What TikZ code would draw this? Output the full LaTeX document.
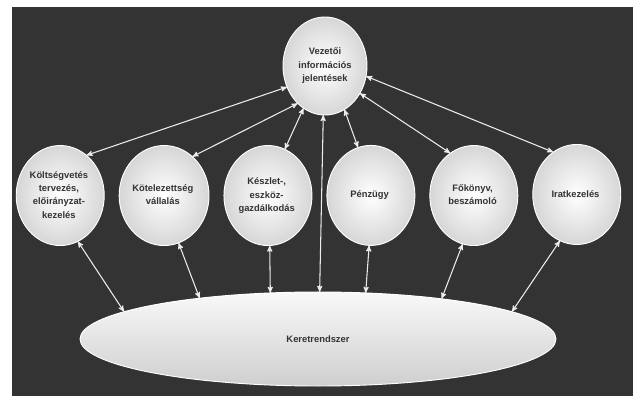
\documentclass[tikz,border=0pt]{standalone}
\usepackage{fontspec}
\setmainfont{Liberation Sans}
\usetikzlibrary{matrix,arrows,shapes.geometric}
\newcommand{\lbl}[1]{\begin{tabular}{@{}c@{}}#1\end{tabular}}
\tikzset{
  orb/.style={ellipse,draw=white,line width=0.8pt,inner sep=0pt,outer sep=0pt,
    minimum width=2.64cm,minimum height=3cm,align=center,text=black!80,
    font=\fontsize{8}{11.5}\selectfont\bfseries,
    inner color=white,outer color=gray!32},
  frame/.style={ellipse,draw=white,line width=0.8pt,inner sep=0pt,outer sep=0pt,
    minimum width=14.28cm,minimum height=2.82cm,text=black!80,
    font=\fontsize{8}{11.5}\selectfont\bfseries,
    top color=gray!5,bottom color=gray!38},
  link/.style={<->,>=stealth',draw=gray!15,line width=0.9pt},
}

\begin{document}
\begin{tikzpicture}[x=0.03cm,y=-0.03cm]
            \useasboundingbox[fill=white] (0,0) rectangle (633,396);
            \fill[black!80] (12,7) rectangle (633,396);

            \node[orb,minimum width=2.52cm,minimum height=2.94cm] (t) at (325,66) {Vezetői\\információs\\jelentések};
            \matrix (m) [matrix of nodes,nodes={orb},column sep=0.42cm] at (318.5,195)
            {
              \lbl{Költségvetés\\tervezés,\\előirányzat-\\kezelés} & \lbl{Kötelezettség\\vállalás} & \lbl{Készlet-,\\eszköz-\\gazdálkodás} & Pénzügy & \lbl{Főkönyv,\\beszámoló} & Iratkezelés \\
            };
            \node[frame] (k) at (318,339) {Keretrendszer};

            % Vezetoi informacio <-> szakrendszerek
            \draw[link] (t.209) -- (m-1-1.57);
            \draw[link] (t.234) -- (m-1-2.54);
            \draw[link] (t.243) -- (m-1-3.70);
            \draw[link] (t.294) -- (m-1-4.105);
            \draw[link] (t.322) -- (m-1-5.119);
            \draw[link] (t.346) -- (m-1-6.119);
            \draw[link] (t.268) -- (k.88);

            % szakrendszerek <-> keretrendszer
            \draw[link] (m-1-1.291) -- (k.172);
            \draw[link] (m-1-2.287) -- (k.161);
            \draw[link] (m-1-3.272) -- (k.136);
            \draw[link] (m-1-4.268) -- (k.44);
            \draw[link] (m-1-5.257) -- (k.18);
            \draw[link] (m-1-6.250) -- (k.8);
\end{tikzpicture}
\end{document}
